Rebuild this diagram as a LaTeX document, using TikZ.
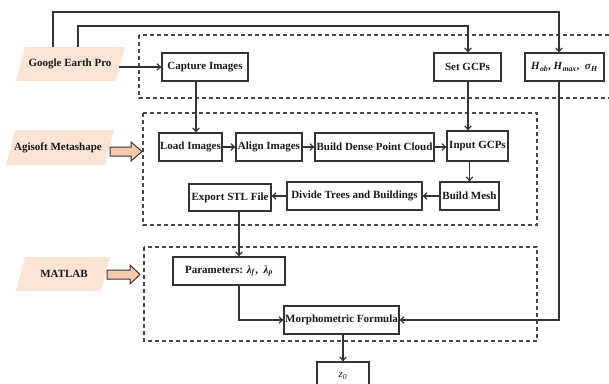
\documentclass[tikz,border=0pt]{standalone}
\usepackage{fontspec}
\setmainfont{Liberation Serif}
\usetikzlibrary{arrows.meta}
\definecolor{peach}{HTML}{FBE4D5}
\definecolor{peachdark}{HTML}{F8CBAD}
\definecolor{ln}{HTML}{333333}
\begin{document}
\begin{tikzpicture}[x=1pt,y=-1pt,
  box/.style={draw=ln, line width=1.3pt, fill=white, font=\fontsize{11}{12}\selectfont\bfseries, text=black!90, minimum height=28pt, inner xsep=1pt, inner ysep=0pt},
  tooltext/.style={font=\fontsize{11}{12}\selectfont\bfseries, text=black!90, inner sep=1pt},
  conn/.style={draw=ln, line width=1.2pt, -{Straight Barb[length=3.5pt,width=6.5pt]}},
  grp/.style={draw=ln!90, dash pattern=on 4pt off 3pt, line width=1.1pt},
  blockarrow/.style={fill=peachdark, draw=ln, line width=1pt}]
\useasboundingbox (0,0) rectangle (609,383);
\clip (0,0) rectangle (609,383);
% group frames
\draw[grp] (139,35) rectangle (612,98);
\draw[grp] (143,113) rectangle (537,225);
\draw[grp] (144,247) rectangle (537,341);
% tool labels
\fill[peach] (16,81) -- (116,81) -- (125,47) -- (25,47) -- cycle;
\node[tooltext] (gep) at (70,64) {Google Earth Pro};
\fill[peach] (6,165) -- (105,165) -- (114,130) -- (15,130) -- cycle;
\node[tooltext] (agi) at (58,148) {Agisoft Metashape};
\fill[peach] (16,291) -- (101,291) -- (110,257) -- (25,257) -- cycle;
\node[tooltext] (mat) at (64,274) {MATLAB};
% block arrows
\path[blockarrow] (110,147) -- (131,147) -- (131,142) -- (142,151.5) -- (131,161) -- (131,156) -- (110,156) -- cycle;
\path[blockarrow] (107,270) -- (130,270) -- (130,265) -- (140,274.5) -- (130,284) -- (130,279) -- (107,279) -- cycle;
% boxes
\node[box, minimum width=86pt] (cap) at (205,67) {Capture Images};
\node[box, minimum width=67pt] (setgcp) at (467.5,67) {Set GCPs};
\node[box, minimum width=79pt] (hbox) at (564.5,67) {\textit{H}\textsubscript{\textit{ob}}, \textit{H}\textsubscript{\textit{max}}, \ \textit{σ}\textsubscript{\textit{H}}};
\node[box, minimum width=63pt] (load) at (190.5,147) {Load Images};
\node[box, minimum width=66pt] (align) at (269,147) {Align Images};
\node[box, minimum width=119pt] (dense) at (374.5,147) {Build Dense Point Cloud};
\node[box, minimum width=61pt, minimum height=30pt] (input) at (477.5,146) {Input GCPs};
\node[box, minimum width=59pt] (mesh) at (469.5,196) {Build Mesh};
\node[box, minimum width=135pt] (divide) at (354.5,196) {Divide Trees and Buildings};
\node[box, minimum width=82pt, minimum height=27pt] (export) at (230,197.5) {Export STL File};
\node[box, minimum width=112pt] (param) at (229,271) {Parameters: \textit{λ}\textsubscript{\textit{f}}, \ \textit{λ}\textsubscript{\textit{p}}};
\node[box, minimum width=115pt] (morph) at (341.5,320) {Morphometric Formula};
\node[box, minimum width=52pt, font=\fontsize{11}{12}\selectfont] (z0) at (343,376) {\textit{z}\textsubscript{\textit{0}}};
% helper coordinates
\coordinate (gepR) at (119,67);
\coordinate (gepT1) at (53,47);
\coordinate (gepT2) at (78,47);
\coordinate (t1) at (559,12);
\coordinate (t2) at (468,26);
\coordinate (cx) at (196,0);
\coordinate (px) at (239,0);
% connectors
\draw[conn] (gepR) -- (cap.west);
\draw[conn] (gepT1) |- (t1) -- (hbox.north -| t1);
\draw[conn] (gepT2) |- (t2) -- (setgcp.north -| t2);
\draw[conn] (cap.south -| cx) -- (load.north -| cx);
\draw[conn] (setgcp.south -| t2) -- (input.north -| t2);
\draw[conn] (load) -- (align);
\draw[conn] (align) -- (dense);
\draw[conn] (dense.east) -- (dense.east -| input.west);
\draw[conn] (input.south -| mesh.north) -- (mesh.north);
\draw[conn] (mesh) -- (divide);
\draw[conn] (divide.west) -- (divide.west -| export.east);
\draw[conn] (export.south -| px) -- (param.north -| px);
\draw[conn] (param.south -| px) |- (morph.west);
\draw[conn] (hbox.south -| t1) |- (morph.east);
\draw[conn] (morph.south -| z0.north) -- (z0.north);
\end{tikzpicture}
\end{document}
